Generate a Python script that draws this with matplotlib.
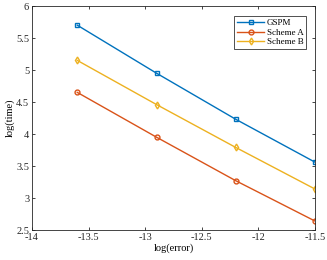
import numpy as np
import matplotlib.pyplot as plt

plt.rcParams['font.family'] = ['Liberation Serif', 'DejaVu Serif']

log_error = [-13.6, -12.9, -12.2, -11.5]
gspm = [5.70, 4.95, 4.23, 3.56]
scheme_a = [4.65, 3.95, 3.27, 2.64]
scheme_b = [5.15, 4.46, 3.79, 3.14]

fig = plt.figure(figsize=(3.27, 2.6), dpi=100)
ax = fig.add_axes([32 / 327, 1 - 230 / 260, 283 / 327, 224 / 260])

ax.plot(log_error, gspm, '-s', color='#0072BD', lw=1, ms=3.5, mfc='none', mew=1, label='GSPM')
ax.plot(log_error, scheme_a, '-o', color='#D95319', lw=1, ms=3.5, mfc='none', mew=1, label='Scheme A')
ax.plot(log_error, scheme_b, '-d', color='#EDB120', lw=1, ms=3.5, mfc='none', mew=1, label='Scheme B')

ax.set_xlim(-14, -11.5)
ax.set_ylim(2.5, 6)
ax.set_xticks([-14, -13.5, -13, -12.5, -12, -11.5])
ax.set_yticks([2.5, 3, 3.5, 4, 4.5, 5, 5.5, 6])
ax.set_xticklabels(['-14', '-13.5', '-13', '-12.5', '-12', '-11.5'])
ax.set_yticklabels(['2.5', '3', '3.5', '4', '4.5', '5', '5.5', '6'])
ax.tick_params(direction='in', top=True, right=True, labelsize=7.5, length=2.5, width=0.6, colors='#262626', pad=2)
for s in ax.spines.values():
    s.set_linewidth(0.6)
    s.set_color('#262626')

ax.set_xlabel('log(error)', fontsize=7.5, labelpad=1)
ax.set_ylabel('log(time)', fontsize=7.5, labelpad=1)

leg = ax.legend(loc='upper right', fontsize=6.5, fancybox=False, edgecolor='black',
                handlelength=3.0, borderpad=0.3, labelspacing=0.15, handletextpad=0.3,
                bbox_to_anchor=(0.985, 0.975))
leg.get_frame().set_linewidth(0.6)

fig.savefig('out.png', dpi=100)
